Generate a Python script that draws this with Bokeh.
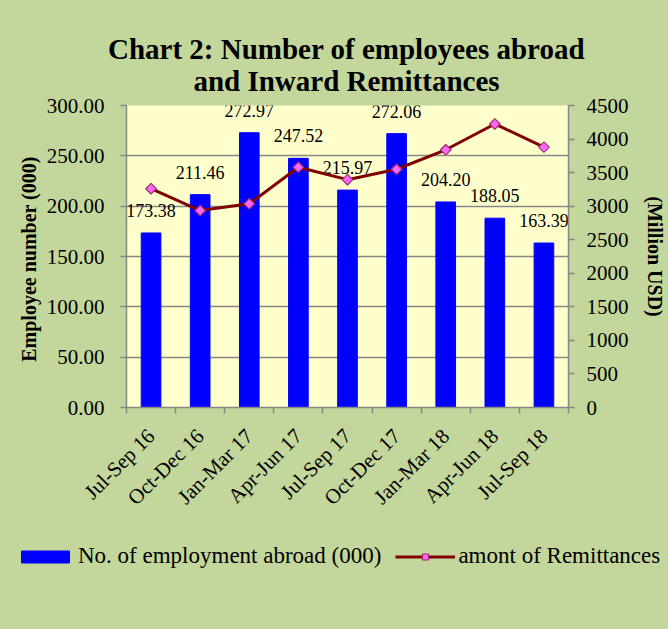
from math import pi
from bokeh.plotting import figure
from bokeh.layouts import column
from bokeh.models import (Range1d, LinearAxis, FixedTicker, NumeralTickFormatter,
                          Legend, LegendItem, ColumnDataSource)
from bokeh.embed import file_html
from bokeh.resources import INLINE
from bokeh.core.properties import value

# ---- data ----
categories = ["Jul-Sep 16", "Oct-Dec 16", "Jan-Mar 17", "Apr-Jun 17", "Jul-Sep 17",
              "Oct-Dec 17", "Jan-Mar 18", "Apr-Jun 18", "Jul-Sep 18"]
employees = [173.38, 211.46, 272.97, 247.52, 215.97, 272.06, 204.20, 188.05, 163.39]
remittances = [3260, 2935, 3035, 3580, 3395, 3550, 3840, 4225, 3880]
left_ticks = [0, 50, 100, 150, 200, 250, 300]
right_ticks = [0, 500, 1000, 1500, 2000, 2500, 3000, 3500, 4000, 4500]
title_lines = ["Chart 2: Number of employees abroad", "and Inward Remittances"]
series_names = ["No. of employment abroad (000)", "amont of Remittances"]

FONT = "Liberation Serif"
GREEN = "#c3d69b"
GRAY = "#878787"
BLUE = "#0000ff"
RED = "#800000"

n = len(categories)
xs = [i + 0.5 for i in range(n)]
src = ColumnDataSource(dict(x=xs, emp=employees, rem=remittances,
                            lab=["%.2f" % v for v in employees]))

W = 668
TH = 96          # title strip height
MH = 434         # main chart height
LH = 629 - TH - MH  # legend strip height


def no_align(f):
    if "frame_align" in f.properties():
        f.frame_align = False


def blank(h):
    f = figure(width=W, height=h, output_backend="svg", toolbar_location=None,
               x_range=Range1d(0, W), y_range=Range1d(0, h),
               x_axis_type=None, y_axis_type=None, title=None,
               min_border=0, min_border_left=0, min_border_right=0,
               min_border_top=0, min_border_bottom=0)
    f.border_fill_color = GREEN
    f.background_fill_color = GREEN
    f.outline_line_color = None
    f.xgrid.visible = False
    f.ygrid.visible = False
    no_align(f)
    return f


# ---- title strip ----
pt = blank(TH)
pt.text(x=[346, 346], y=[TH - 48, TH - 80], text=title_lines,
        text_align="center", text_baseline="middle", text_font=value(FONT),
        text_font_size="29px", text_font_style="bold", text_color="black")

# ---- main chart ----
FT, FB, FL, FR = 105 - TH, 407 - TH, 126, 574
p = figure(width=W, height=MH, output_backend="svg", toolbar_location=None,
           x_range=Range1d(0, n), y_range=Range1d(left_ticks[0], left_ticks[-1]),
           min_border_left=FL, min_border_right=W - FR, min_border_top=FT,
           min_border_bottom=MH - FB, title=None)
p.border_fill_color = GREEN
p.background_fill_color = "#ffffcc"
p.outline_line_color = None
p.extra_y_ranges = {"rem": Range1d(right_ticks[0], right_ticks[-1])}
no_align(p)

p.xaxis.ticker = FixedTicker(ticks=xs, minor_ticks=list(range(n + 1)))
p.xaxis.major_label_overrides = {x: c for x, c in zip(xs, categories)}
p.xaxis.major_label_orientation = pi / 4
p.xaxis.major_tick_out = 0
p.xaxis.major_tick_in = 0
p.xaxis.minor_tick_out = 6
p.xaxis.minor_tick_in = 0
p.xaxis.minor_tick_line_color = GRAY
p.xaxis.minor_tick_line_width = 1.5
p.xaxis.major_label_standoff = 19

p.yaxis.ticker = FixedTicker(ticks=left_ticks)
p.yaxis.formatter = NumeralTickFormatter(format="0.00")
p.yaxis.major_label_standoff = 16
p.yaxis.minor_tick_line_color = None
p.yaxis.axis_label = "Employee number  (000)"
p.yaxis.axis_label_standoff = 4

ra = LinearAxis(y_range_name="rem", ticker=FixedTicker(ticks=right_ticks),
                formatter=NumeralTickFormatter(format="0"))
ra.major_label_standoff = 12
ra.minor_tick_line_color = None
ra.axis_label = "(Million USD)"
ra.axis_label_standoff = 12
p.add_layout(ra, "right")

for ax in [p.xaxis[0], p.yaxis[0], ra]:
    ax.axis_line_color = GRAY
    ax.axis_line_width = 1.5
    ax.major_tick_line_color = GRAY
    ax.major_tick_line_width = 1.5
    ax.major_label_text_font = FONT
    ax.major_label_text_font_size = "21px"
    ax.major_label_text_color = "black"
    ax.axis_label_text_font = FONT
    ax.axis_label_text_font_size = "20px"
    ax.axis_label_text_font_style = "bold"
    ax.axis_label_text_color = "black"
p.yaxis[0].major_tick_out = 6
p.yaxis[0].major_tick_in = 0
ra.major_tick_out = 6
ra.major_tick_in = 0

p.xgrid.visible = False
p.ygrid.grid_line_color = GRAY
p.ygrid.grid_line_width = 1.5

p.vbar(x="x", top="emp", width=0.4, bottom=0, source=src,
       fill_color=BLUE, line_color=BLUE)
p.text(x="x", y="emp", text="lab", source=src, text_align="center",
       text_baseline="bottom", y_offset=-16, text_font=value(FONT),
       text_font_size="18px", text_color="black")
p.line(x="x", y="rem", source=src, y_range_name="rem",
       line_color=RED, line_width=3)
p.scatter(x="x", y="rem", source=src, y_range_name="rem", marker="square",
          angle=pi / 4, size=7.5, fill_color="#ff66ff", line_color="#a0306a",
          line_width=1.2)

# ---- legend strip (off-screen proxy glyphs only feed the legend swatches) ----
pl = blank(LH)
proxy = ColumnDataSource(dict(x=[-500], y=[-500]))
r_bar = pl.vbar(x="x", top="y", width=1, source=proxy, fill_color=BLUE, line_color=BLUE)
r_ln = pl.line(x="x", y="y", source=proxy, line_color=RED, line_width=3)
r_mk = pl.scatter(x="x", y="y", source=proxy, marker="square", angle=pi / 4, size=7.5,
                  fill_color="#ff66ff", line_color="#a0306a", line_width=1.2)
legend = Legend(items=[LegendItem(label=series_names[0], renderers=[r_bar]),
                       LegendItem(label=series_names[1], renderers=[r_ln, r_mk])],
                orientation="horizontal", location=(15, LH - 25 - 14),
                glyph_width=60, glyph_height=15, label_standoff=3, spacing=14,
                padding=0, margin=0, background_fill_alpha=0, border_line_color=None,
                label_text_font=FONT, label_text_font_size="23px",
                label_text_color="black")
pl.add_layout(legend, "center")

layout = column(pt, p, pl, spacing=0)
layout.styles = {"background-color": GREEN}
open("out.html", "w").write(file_html(layout, INLINE))
